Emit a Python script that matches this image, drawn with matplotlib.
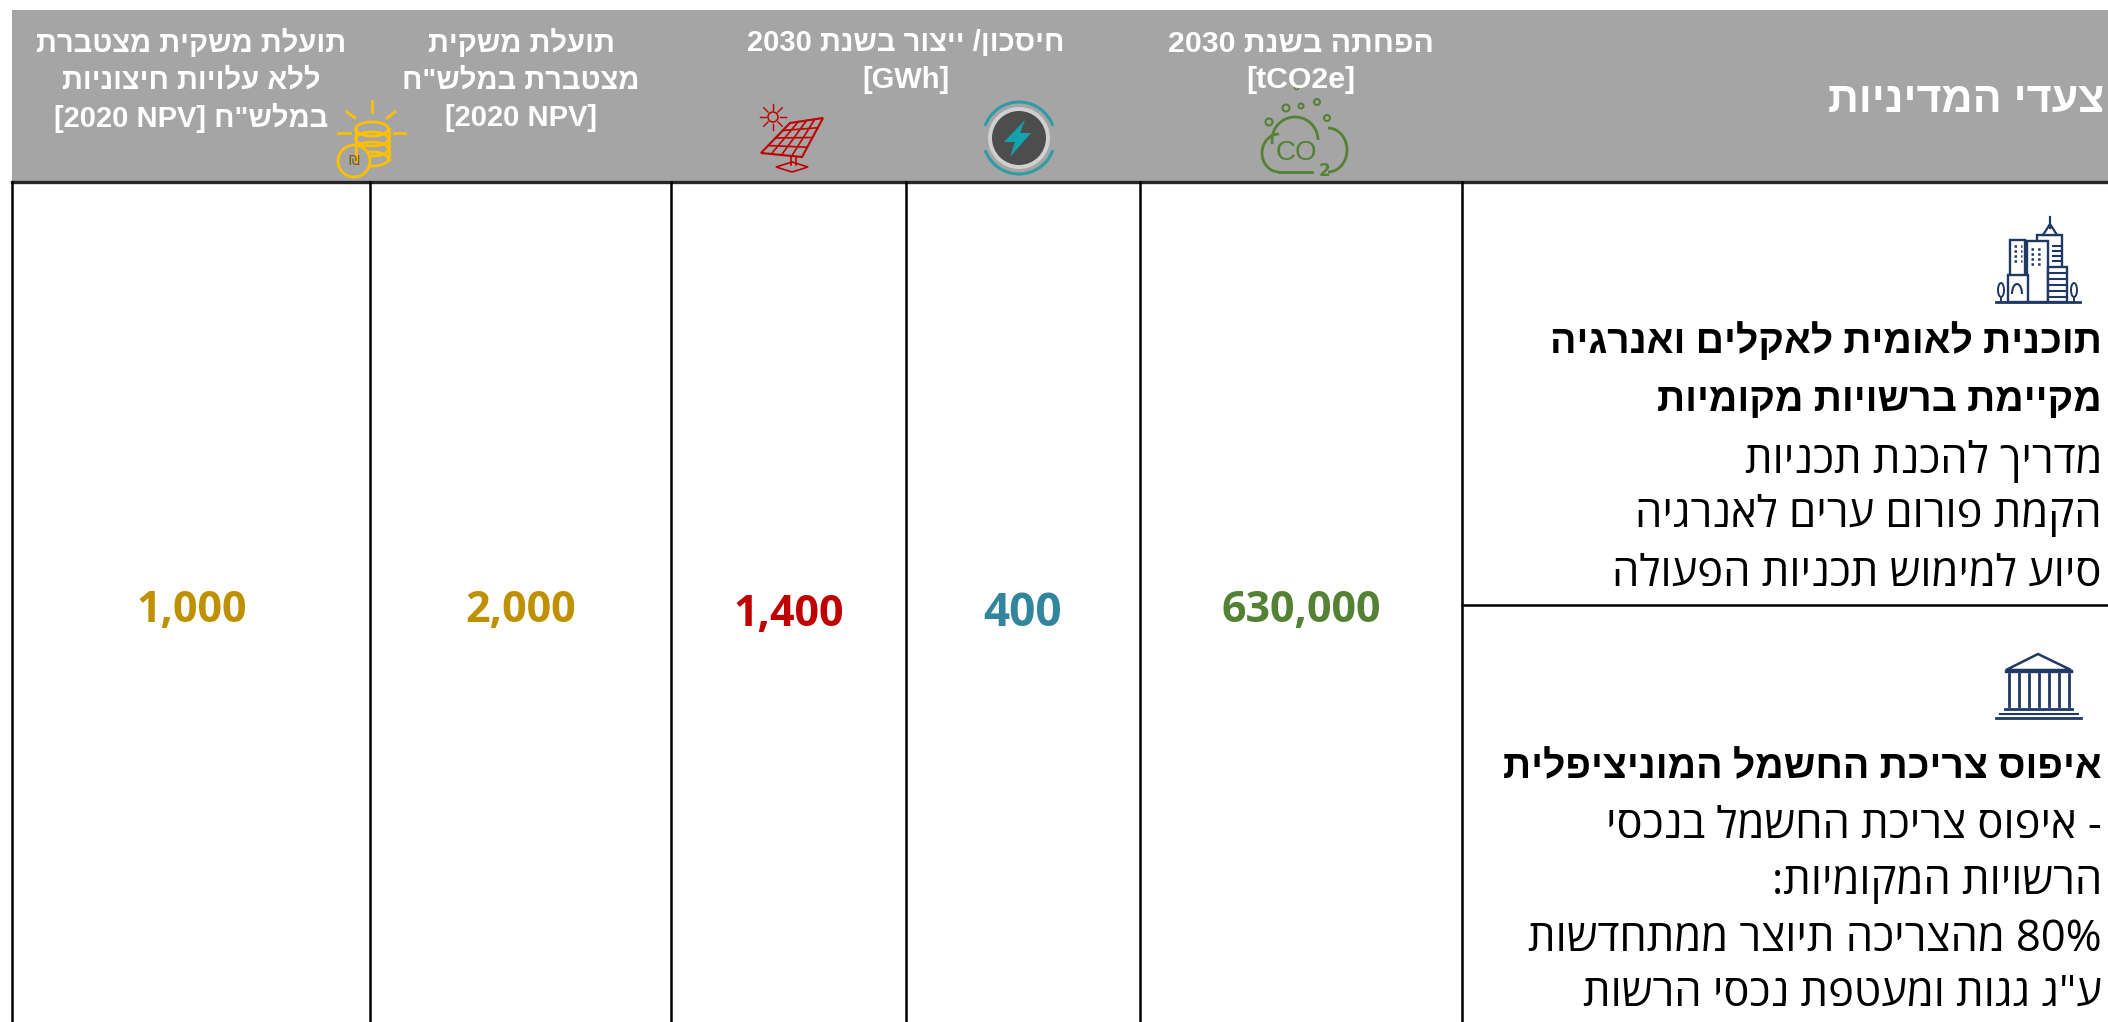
import re
import numpy as np
import matplotlib
matplotlib.use("Agg")
import matplotlib.pyplot as plt
from matplotlib.patches import Rectangle, Circle, Ellipse, Polygon, Arc

col_centers = [192, 521, 789, 1023, 1301]
value_labels = ["1,000", "2,000", "1,400", "400", "630,000"]
value_y = [611, 611, 615, 614, 611]
value_colors = ["#BF9000", "#BF9000", "#C00000", "#31859C", "#548235"]
value_sizes = [31, 31, 31, 33, 31]

header_centers = [191, 521, 906, 1301]
header_sizes = [21, 21, 21, 21.8]
header_lines = [
    ["תועלת משקית מצטברת", "ללא עלויות חיצוניות", 'במלש"ח [2020 NPV]'],
    ["תועלת משקית", 'מצטברת במלש"ח', "[2020 NPV]"],
    ["חיסכון/ ייצור בשנת 2030", "[GWh]"],
    ["הפחתה בשנת 2030", "[tCO2e]"],
]
header_title = "צעדי המדיניות"

row1_bold = ["תוכנית לאומית לאקלים ואנרגיה", "מקיימת ברשויות מקומיות"]
row1_text = ["מדריך להכנת תכניות", "הקמת פורום ערים לאנרגיה", "סיוע למימוש תכניות הפעולה"]
row2_bold = ["איפוס צריכת החשמל המוניציפלית"]
row2_text = ["- איפוס צריכת החשמל בנכסי", "הרשויות המקומיות:", "80% מהצריכה תיוצר ממתחדשות", 'ע"ג גגות ומעטפת נכסי הרשות']

col_lines = [12, 370, 671, 906, 1140, 1462]

head_font = ["Liberation Sans", "DejaVu Sans"]
body_font = ["Open Sans", "Liberation Sans", "DejaVu Sans"]


def vis(s):
    # matplotlib has no bidi, so put the hebrew in display order by hand
    parts = re.split(r"(\[[^\]]*\]|\d[\d,.]*%?)", s)
    return "".join(p if i % 2 else p[::-1] for i, p in reversed(list(enumerate(parts))))


fig = plt.figure(figsize=(21.08, 10.22), dpi=100)
ax = fig.add_axes([0, 0, 1, 1])
ax.set_xlim(0, 2108)
ax.set_ylim(1022, 0)
ax.axis("off")

ax.add_patch(Rectangle((12, 10), 2096, 171, color="#A5A5A5", lw=0))
ax.plot([12, 2108], [182, 182], color="#262626", lw=2.4)
for x in col_lines:
    ax.plot([x, x], [182, 1022], color="black", lw=1.8)
ax.plot([1462, 2108], [605, 605], color="black", lw=1.8)

# header
for x, s, lines in zip(header_centers, header_sizes, header_lines):
    for j, line in enumerate(lines):
        ax.text(x, 43.5 + j * 37, vis(line), ha="center", va="center", color="white",
                fontsize=s, fontweight="bold", family=head_font)
ax.text(2104, 101, vis(header_title), ha="right", va="center", color="white", fontsize=31,
        fontweight="bold", family=head_font)
ax.plot([1296], [87], "o", ms=3, mfc="none", mec="#548235", mew=1)

# values
for x, y, lab, c, s in zip(col_centers, value_y, value_labels, value_colors, value_sizes):
    ax.text(x, y, lab, ha="center", va="center", color=c, fontsize=s, fontweight="bold", family=body_font)

# row text
for y, line in zip([343, 401], row1_bold):
    ax.text(2102, y, vis(line), ha="right", va="center", fontsize=28.3, fontweight="bold", family=body_font)
for y, line in zip([462, 516, 574], row1_text):
    ax.text(2102, y, vis(line), ha="right", va="center", fontsize=31.3, family=body_font)
for y, line in zip([768], row2_bold):
    ax.text(2102, y, vis(line), ha="right", va="center", fontsize=28.3, fontweight="bold", family=body_font)
for y, line in zip([827, 883, 940, 995], row2_text):
    ax.text(2102, y, vis(line), ha="right", va="center", fontsize=31.3, family=body_font)

# coins icon
gold = "#FFC000"
for xs, ys in [([372, 372], [101, 112]), ([347, 355], [112, 118]), ([395, 387], [112, 118]),
               ([338, 350], [133, 133]), ([394, 405], [133, 133])]:
    ax.plot(xs, ys, color=gold, lw=2)
for y in [129, 139, 149, 159]:
    ax.add_patch(Ellipse((372, y), 33, 14, fc="none", ec=gold, lw=2))
ax.plot([355.5, 355.5], [129, 160], color=gold, lw=2)
ax.plot([388.5, 388.5], [129, 160], color=gold, lw=2)
ax.add_patch(Circle((354, 161), 16, fc="#A5A5A5", ec=gold, lw=2))
ax.text(354, 161, "₪", ha="center", va="center", fontsize=10, color="#7F6000", family="DejaVu Sans")

# solar panel icon
red = "#C00000"
p0, p1, p2, p3 = np.array([790, 123]), np.array([823, 118]), np.array([802, 157]), np.array([761, 153])
ax.add_patch(Polygon([p0, p1, p2, p3], fc="none", ec=red, lw=1.5))
for t in [0.25, 0.5, 0.75]:
    a, b = p0 + t * (p3 - p0), p1 + t * (p2 - p1)
    ax.plot([a[0], b[0]], [a[1], b[1]], color=red, lw=1.2)
    a, b = p0 + t * (p1 - p0), p3 + t * (p2 - p3)
    ax.plot([a[0], b[0]], [a[1], b[1]], color=red, lw=1.2)
ax.plot([791, 791], [157, 165], color=red, lw=1.2)
ax.plot([796, 796], [157, 165], color=red, lw=1.2)
ax.add_patch(Polygon([[776, 167], [792, 162], [808, 167], [792, 172]], fc="none", ec=red, lw=1.2))
ax.add_patch(Circle((773, 117), 5, fc="none", ec=red, lw=1.1))
for a in range(0, 360, 45):
    ca, sa = np.cos(np.radians(a)), np.sin(np.radians(a))
    ax.plot([773 + 7 * ca, 773 + 13 * ca], [117 + 7 * sa, 117 + 13 * sa], color=red, lw=1)

# energy icon
ax.add_patch(Arc((1019, 138), 72, 72, theta1=200, theta2=340, ec="#2E9CA6", lw=2.2))
ax.add_patch(Arc((1019, 138), 72, 72, theta1=20, theta2=160, ec="#2E9CA6", lw=2.2))
ax.add_patch(Circle((1019, 138), 31, fc="#D0D0D0", ec="none"))
ax.add_patch(Circle((1019, 138), 27, fc="#4D4D4D", ec="none"))
ax.add_patch(Polygon([[1025, 120], [1004, 142], [1015, 142], [1010, 157], [1031, 133], [1020, 133]],
                     fc="#12A3AD", ec="none"))

# co2 icon
green = "#548235"
ax.add_patch(Arc((1295, 140), 46, 46, theta1=170, theta2=360, ec=green, lw=2))
ax.add_patch(Arc((1279, 153), 34, 38, theta1=90, theta2=270, ec=green, lw=2))
ax.add_patch(Arc((1328, 150), 38, 44, theta1=-90, theta2=90, ec=green, lw=2))
ax.plot([1279, 1312], [172, 172], color=green, lw=2)
for x, y, r in [(1269, 122, 3.5), (1286, 108, 3.5), (1301, 106, 2.5), (1317, 102, 3), (1327, 118, 3)]:
    ax.add_patch(Circle((x, y), r, fc="none", ec=green, lw=1.5))
ax.text(1296, 153, "CO", ha="center", va="center", color=green, fontsize=20, family="Liberation Sans")
ax.text(1324, 171, "2", ha="center", va="center", color=green, fontsize=12, fontweight="bold", family="DejaVu Sans")

# city icon
navy = "#1F3864"
ax.plot([1996, 2080], [302, 302], color=navy, lw=2)
for x, y, w, h in [(2010, 240, 15, 62), (2037, 235, 25, 67), (2027, 241, 21, 61), (2008, 275, 20, 27), (2048, 267, 19, 35)]:
    ax.add_patch(Rectangle((x, y), w, h, fc="white", ec=navy, lw=1.7))
ax.plot([2050, 2050], [217, 228], color=navy, lw=1.6)
ax.add_patch(Polygon([[2043, 235], [2050, 224], [2057, 235]], fc="white", ec=navy, lw=1.6))
for y in range(273, 302, 6):
    ax.plot([2048, 2067], [y, y], color=navy, lw=1.5)
for y in range(246, 266, 5):
    ax.plot([2053, 2060], [y, y], color=navy, lw=1.5)
    ax.plot([2014, 2022], [y, y], color=navy, lw=1.8, ls=":")
    ax.plot([2031, 2044], [y + 3, y + 3], color=navy, lw=1.8, ls=":")
ax.add_patch(Arc((2017, 294), 10, 20, theta1=180, theta2=360, ec=navy, lw=1.5))
for x in [2001, 2074]:
    ax.add_patch(Ellipse((x, 290), 6, 14, fc="none", ec=navy, lw=1.4))
    ax.plot([x, x], [297, 302], color=navy, lw=1.4)

# bank icon
ax.add_patch(Polygon([[2006, 670], [2038, 654], [2071, 670]], fc="none", ec=navy, lw=1.8))
ax.plot([2006, 2071], [671, 671], color=navy, lw=2.4)
for x in np.arange(2009, 2070, 10):
    ax.plot([x, x], [674, 706], color=navy, lw=2)
ax.plot([2005, 2072], [709, 709], color=navy, lw=2)
ax.plot([2000, 2078], [714, 714], color=navy, lw=1.5)
ax.plot([1996, 2081], [718, 718], color=navy, lw=2)

plt.savefig("out.png", dpi=100)
